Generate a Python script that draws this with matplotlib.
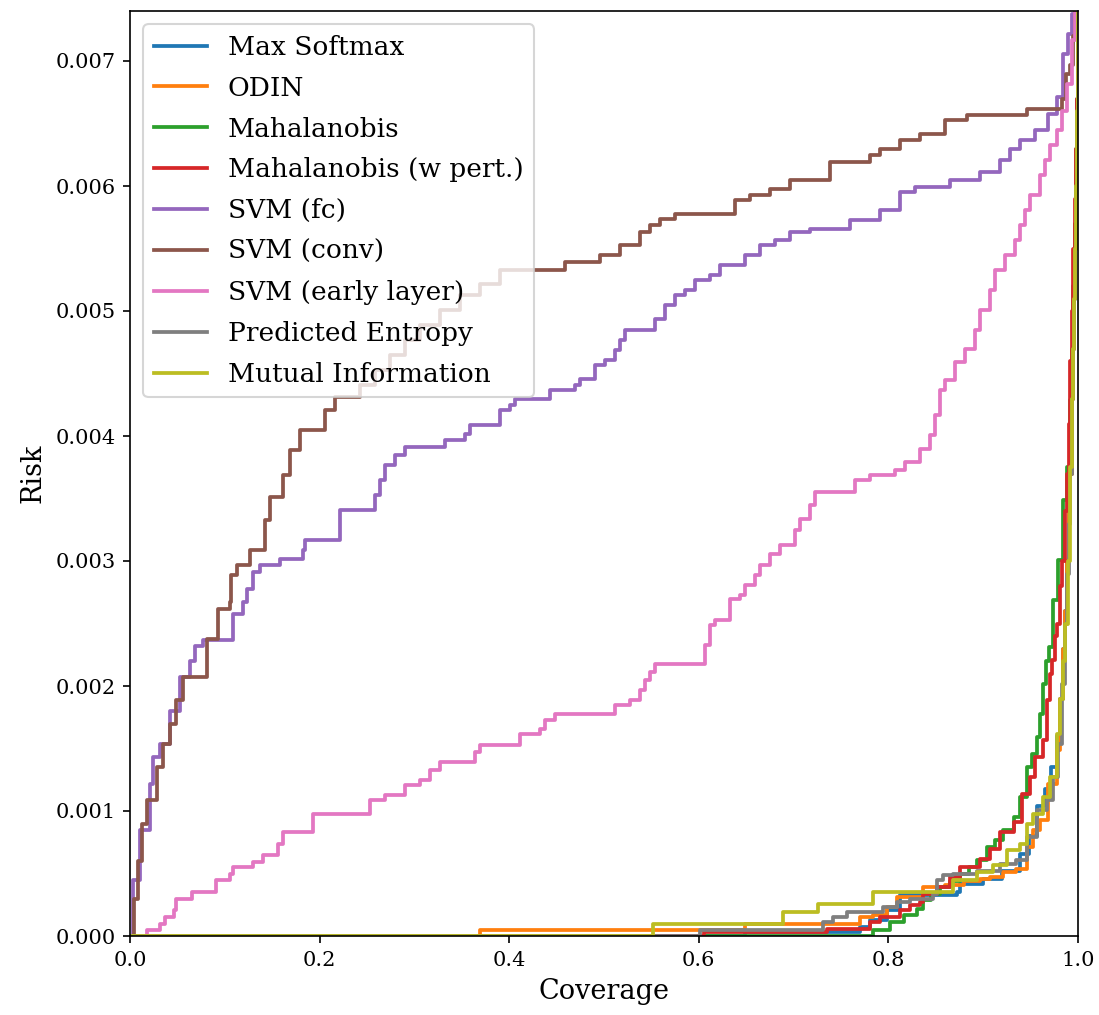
import matplotlib
matplotlib.use("Agg")
from matplotlib import pyplot as plt

plt.rcParams["font.family"] = "serif"

# risk-coverage curves, (coverage, risk) breakpoints for steps-post
softmax_x = [0, 0.649, 0.77, 0.781, 0.798, 0.812, 0.872, 0.876, 0.90, 0.92, 0.939, 0.948,
             0.957, 0.965, 0.972, 0.978, 0.981, 0.984, 0.986, 0.988, 0.990, 0.9916, 0.9934,
             0.995, 0.996, 0.997, 0.998, 0.999, 1.0]
softmax_y = [0, 0.00003, 0.00007, 0.00013, 0.00021, 0.00033, 0.00035, 0.00042, 0.00046, 0.00052,
             0.00066, 0.00080, 0.00104, 0.00118, 0.00135, 0.00160, 0.0019, 0.0023, 0.0026,
             0.0030, 0.0034, 0.0037, 0.0043, 0.0047, 0.0051, 0.0055, 0.0060, 0.0066, 0.0075]

odin_x = [0, 0.369, 0.649, 0.77, 0.784, 0.798, 0.809, 0.837, 0.86, 0.88, 0.897, 0.907, 0.921,
          0.935, 0.946, 0.953, 0.96, 0.968, 0.978, 0.981, 0.984, 0.986, 0.988, 0.990, 0.992,
          0.9935, 0.9945, 0.996, 0.997, 0.998, 0.999, 1.0]
odin_y = [0, 0.00005, 0.0001, 0.00015, 0.00017, 0.00023, 0.00031, 0.00039, 0.00041, 0.00044,
          0.00046, 0.00047, 0.00051, 0.00054, 0.00071, 0.00085, 0.00093, 0.00122, 0.00149,
          0.0019, 0.0023, 0.0026, 0.0030, 0.0034, 0.0037, 0.0043, 0.0047, 0.0052, 0.0057,
          0.0061, 0.0066, 0.0075]

maha_x = [0, 0.784, 0.802, 0.816, 0.83, 0.837, 0.845, 0.854, 0.865, 0.876, 0.885, 0.893, 0.904,
          0.912, 0.921, 0.932, 0.939, 0.946, 0.951, 0.957, 0.96, 0.963, 0.966, 0.969, 0.974,
          0.979, 0.984, 0.988, 0.9916, 0.9935, 0.995, 0.9965, 0.998, 0.999, 1.0]
maha_y = [0, 0.00005, 0.00011, 0.00017, 0.00022, 0.00029, 0.00034, 0.00039, 0.00044, 0.0005,
          0.00055, 0.00061, 0.00071, 0.00077, 0.00085, 0.00095, 0.00111, 0.00135, 0.00146,
          0.00159, 0.00178, 0.00202, 0.0022, 0.00231, 0.00269, 0.00301, 0.00349, 0.00375,
          0.00429, 0.0047, 0.0052, 0.0057, 0.0063, 0.0067, 0.0075]

maha_pert_x = [0, 0.605, 0.735, 0.781, 0.791, 0.812, 0.823, 0.833, 0.837, 0.851, 0.865, 0.876,
               0.897, 0.907, 0.918, 0.932, 0.941, 0.949, 0.955, 0.963, 0.967, 0.970, 0.973,
               0.976, 0.978, 0.981, 0.983, 0.986, 0.988, 0.990, 0.992, 0.9935, 0.995, 0.9965,
               0.998, 0.999, 1.0]
maha_pert_y = [0, 0.00003, 0.00006, 0.00011, 0.00015, 0.00021, 0.00025, 0.00027, 0.00034,
               0.00039, 0.00047, 0.00055, 0.00062, 0.0007, 0.00083, 0.00091, 0.00114, 0.00127,
               0.00143, 0.00157, 0.00189, 0.0021, 0.00221, 0.0024, 0.0025, 0.0028, 0.003,
               0.0034, 0.0037, 0.0041, 0.0046, 0.0050, 0.0055, 0.0059, 0.0063, 0.0067, 0.0075]

svm_fc_x = [0, 0.0035, 0.0105, 0.021, 0.024, 0.032, 0.042, 0.053, 0.063, 0.069, 0.077, 0.109,
            0.119, 0.123, 0.13, 0.137, 0.158, 0.183, 0.185, 0.222, 0.258, 0.264, 0.269, 0.28,
            0.29, 0.332, 0.353, 0.359, 0.39, 0.401, 0.406, 0.443, 0.469, 0.475, 0.49, 0.501,
            0.512, 0.517, 0.522, 0.554, 0.564, 0.575, 0.585, 0.596, 0.612, 0.622, 0.649, 0.665,
            0.68, 0.696, 0.717, 0.76, 0.791, 0.812, 0.828, 0.865, 0.897, 0.918, 0.928, 0.939,
            0.955, 0.968, 0.978, 0.984, 0.989, 0.994, 1.0]
svm_fc_y = [0, 0.00045, 0.00085, 0.00122, 0.00143, 0.00154, 0.0018, 0.00207, 0.0022, 0.00232,
            0.00237, 0.00258, 0.00267, 0.00278, 0.00291, 0.00297, 0.00302, 0.00309, 0.00317,
            0.00341, 0.00353, 0.00365, 0.00377, 0.00385, 0.00391, 0.00397, 0.00402, 0.00409,
            0.00421, 0.00425, 0.0043, 0.00437, 0.00441, 0.00446, 0.00457, 0.00461, 0.00469,
            0.00477, 0.00485, 0.00494, 0.00505, 0.00513, 0.00517, 0.00525, 0.00529, 0.00537,
            0.00545, 0.00553, 0.00557, 0.00563, 0.00566, 0.00573, 0.00581, 0.00595, 0.00599,
            0.00605, 0.00611, 0.00621, 0.0063, 0.00637, 0.00645, 0.00658, 0.00671, 0.00706,
            0.00722, 0.00738, 0.0076]

svm_conv_x = [0, 0.004, 0.008, 0.013, 0.0176, 0.028, 0.035, 0.042, 0.049, 0.056, 0.081, 0.093,
              0.105, 0.107, 0.1125, 0.127, 0.142, 0.148, 0.161, 0.169, 0.179, 0.206, 0.216,
              0.243, 0.258, 0.274, 0.29, 0.306, 0.327, 0.348, 0.369, 0.39, 0.459, 0.496, 0.517,
              0.538, 0.549, 0.559, 0.575, 0.638, 0.654, 0.675, 0.696, 0.738, 0.781, 0.791,
              0.812, 0.833, 0.86, 0.883, 0.946, 0.983, 0.987, 0.992, 0.995, 0.997]
svm_conv_y = [0, 0.0003, 0.0006, 0.0009, 0.00109, 0.00135, 0.00154, 0.0017, 0.00189, 0.00207,
              0.00238, 0.00262, 0.00267, 0.00289, 0.00297, 0.00309, 0.00333, 0.00351, 0.00369,
              0.00389, 0.00405, 0.00421, 0.00431, 0.00441, 0.00453, 0.00465, 0.00477, 0.00489,
              0.00501, 0.00513, 0.00522, 0.00533, 0.00539, 0.00545, 0.00553, 0.00563, 0.00569,
              0.00574, 0.00578, 0.00589, 0.00593, 0.00598, 0.00605, 0.00619, 0.00625, 0.0063,
              0.00637, 0.00642, 0.00653, 0.00657, 0.00662, 0.0067, 0.0069, 0.00697, 0.0072,
              0.0075]

svm_early_x = [0, 0.0176, 0.032, 0.037, 0.046, 0.049, 0.065, 0.091, 0.105, 0.109, 0.13, 0.14,
               0.156, 0.161, 0.193, 0.253, 0.269, 0.29, 0.306, 0.316, 0.327, 0.364, 0.369,
               0.411, 0.432, 0.438, 0.448, 0.512, 0.527, 0.538, 0.543, 0.549, 0.554, 0.607,
               0.612, 0.617, 0.633, 0.643, 0.649, 0.659, 0.665, 0.675, 0.686, 0.701, 0.707,
               0.717, 0.723, 0.765, 0.781, 0.807, 0.818, 0.833, 0.844, 0.849, 0.854, 0.86, 0.87,
               0.881, 0.891, 0.897, 0.907, 0.912, 0.923, 0.934, 0.939, 0.944, 0.949, 0.96,
               0.965, 0.97, 0.978, 0.983, 0.988, 0.994, 0.997]
svm_early_y = [0, 0.00005, 0.0001, 0.00015, 0.00021, 0.0003, 0.00035, 0.00045, 0.0005, 0.00055,
               0.00059, 0.00065, 0.00074, 0.00083, 0.00098, 0.00109, 0.00113, 0.00121, 0.00125,
               0.00133, 0.00139, 0.00147, 0.00153, 0.00162, 0.00166, 0.00173, 0.00178, 0.00185,
               0.00189, 0.00197, 0.00205, 0.00211, 0.00218, 0.00233, 0.00249, 0.00253, 0.0027,
               0.00273, 0.00281, 0.00289, 0.00297, 0.00306, 0.00313, 0.00325, 0.00334, 0.00345,
               0.00355, 0.00365, 0.00369, 0.00373, 0.00379, 0.0039, 0.00401, 0.00417, 0.00437,
               0.00445, 0.00459, 0.0047, 0.00485, 0.00501, 0.00517, 0.00533, 0.00545, 0.00557,
               0.00569, 0.00581, 0.00593, 0.00609, 0.00621, 0.00633, 0.00645, 0.0066, 0.00682,
               0.00717, 0.00745]

entropy_x = [0, 0.601, 0.731, 0.742, 0.756, 0.794, 0.809, 0.823, 0.847, 0.851, 0.858, 0.868,
             0.893, 0.918, 0.935, 0.946, 0.957, 0.967, 0.974, 0.979, 0.983, 0.986, 0.988, 0.990,
             0.9916, 0.9934, 0.995, 0.996, 0.997, 0.998, 0.999, 1.0]
entropy_y = [0, 0.00005, 0.00011, 0.00015, 0.00019, 0.00023, 0.00027, 0.0003, 0.00034, 0.00045,
             0.00049, 0.0005, 0.00052, 0.00058, 0.00061, 0.00079, 0.00101, 0.00109, 0.00127,
             0.00154, 0.00202, 0.0025, 0.0029, 0.0033, 0.0037, 0.0043, 0.0047, 0.0051, 0.0055,
             0.0060, 0.0066, 0.0075]

mutual_x = [0, 0.552, 0.689, 0.726, 0.784, 0.868, 0.893, 0.91, 0.925, 0.939, 0.946, 0.953,
            0.963, 0.97, 0.978, 0.981, 0.984, 0.986, 0.989, 0.9916, 0.9937, 0.995, 0.996, 0.997,
            0.998, 0.999, 1.0]
mutual_y = [0, 0.0001, 0.00019, 0.00026, 0.00035, 0.00045, 0.00051, 0.00057, 0.00069, 0.00074,
            0.0009, 0.00098, 0.00111, 0.00127, 0.00162, 0.0019, 0.0022, 0.0025, 0.0030, 0.00375,
            0.0043, 0.0047, 0.0051, 0.0055, 0.0060, 0.0066, 0.0075]

curves = [
    ("Max Softmax", softmax_x, softmax_y),
    ("ODIN", odin_x, odin_y),
    ("Mahalanobis", maha_x, maha_y),
    ("Mahalanobis (w pert.)", maha_pert_x, maha_pert_y),
    ("SVM (fc)", svm_fc_x, svm_fc_y),
    ("SVM (conv)", svm_conv_x, svm_conv_y),
    ("SVM (early layer)", svm_early_x, svm_early_y),
    ("Predicted Entropy", entropy_x, entropy_y),
    ("Mutual Information", mutual_x, mutual_y),
]

fig = plt.figure(figsize=(1099 / 150, 1015 / 150), dpi=150)
ax = fig.add_axes([130 / 1099, 79 / 1015, 948 / 1099, 925 / 1015])

for label, xs, ys in curves:
    ax.plot(xs, ys, drawstyle="steps-post", lw=1.8, label=label)

ax.set_xlim(0, 1)
ax.set_ylim(0, 0.0074)
ax.set_xlabel("Coverage", fontsize=13)
ax.set_ylabel("Risk", fontsize=13)
ax.tick_params(labelsize=10)
ax.legend(loc="upper left", fontsize=12.7, labelspacing=0.6)

fig.savefig("out.png", dpi=150)
plt.close(fig)
